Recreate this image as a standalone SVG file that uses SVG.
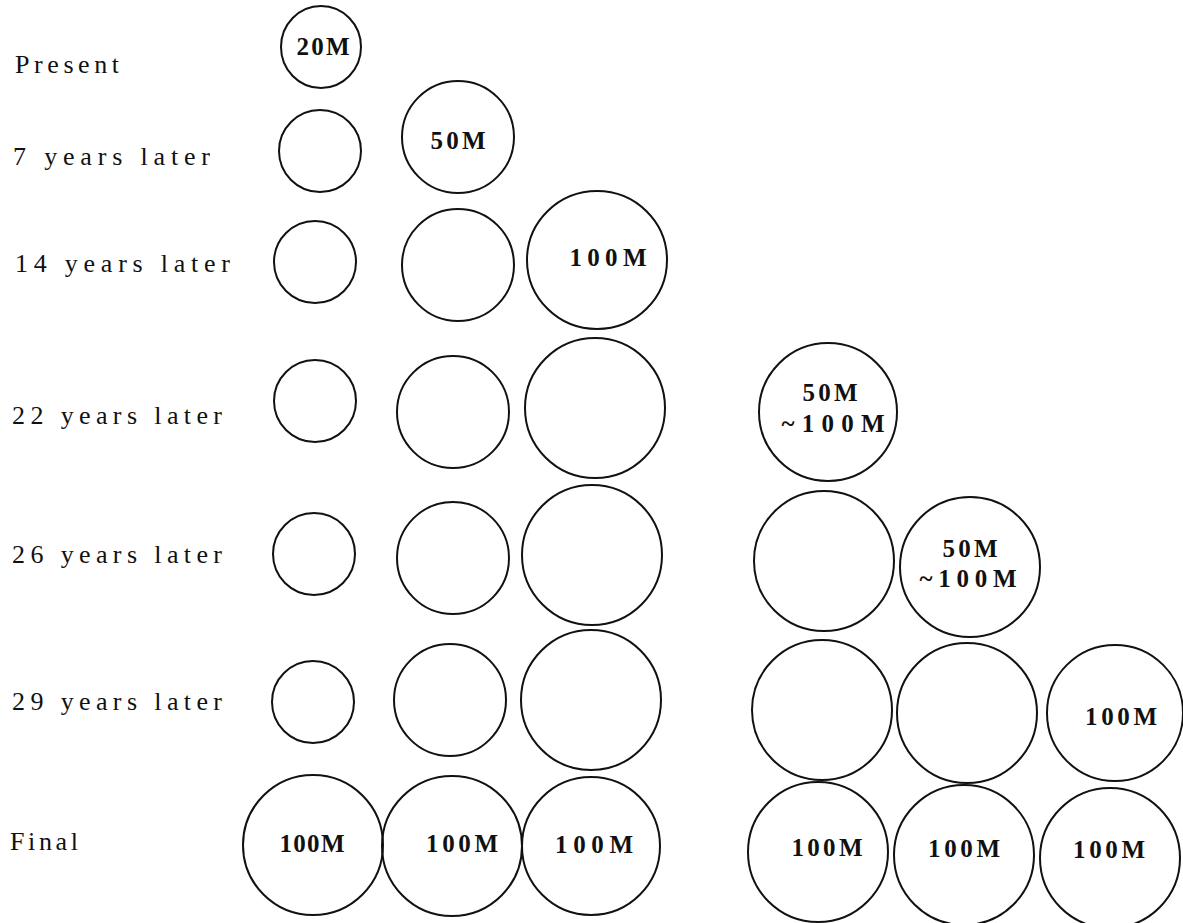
<svg xmlns="http://www.w3.org/2000/svg" width="1183" height="923" viewBox="0 0 1183 923">
<style>
.bg{fill:#ffffff}
.c{fill:none;stroke:#111;stroke-width:2}
.lbl{font-family:"Liberation Serif","DejaVu Serif",serif;font-size:26px;fill:#111}
.v{font-family:"Liberation Serif","DejaVu Serif",serif;font-size:25px;font-weight:bold;fill:#111;text-anchor:middle}
</style>
<rect class="bg" x="0" y="0" width="1183" height="923"/>
<g id="labels">
<text class="lbl" x="15" y="73" textLength="104" lengthAdjust="spacing">Present</text>
<text class="lbl" x="13" y="165" textLength="197" lengthAdjust="spacing">7 years later</text>
<text class="lbl" x="15" y="272" textLength="215" lengthAdjust="spacing">14 years later</text>
<text class="lbl" x="12" y="424" textLength="210" lengthAdjust="spacing">22 years later</text>
<text class="lbl" x="12" y="563" textLength="210" lengthAdjust="spacing">26 years later</text>
<text class="lbl" x="12" y="710" textLength="210" lengthAdjust="spacing">29 years later</text>
<text class="lbl" x="10" y="850" textLength="68" lengthAdjust="spacing">Final</text>
</g>
<g id="row-present">
<g id="p1"><ellipse class="c" cx="321" cy="47" rx="40" ry="41"/><text class="v" x="323" y="55" textLength="53" lengthAdjust="spacing">20M</text></g>
</g>
<g id="row-7">
<g id="r2a"><circle class="c" cx="320" cy="151" r="41"/></g>
<g id="r2b"><circle class="c" cx="458" cy="137" r="56"/><text class="v" x="458" y="149" textLength="55" lengthAdjust="spacing">50M</text></g>
</g>
<g id="row-14">
<g id="r3a"><circle class="c" cx="315" cy="262" r="41"/></g>
<g id="r3b"><circle class="c" cx="458" cy="265" r="56"/></g>
<g id="r3c"><ellipse class="c" cx="597" cy="260" rx="70" ry="69"/><text class="v" x="608" y="266" textLength="77" lengthAdjust="spacing">100M</text></g>
</g>
<g id="row-22">
<g id="r4a"><circle class="c" cx="315" cy="401" r="41"/></g>
<g id="r4b"><circle class="c" cx="453" cy="412" r="56"/></g>
<g id="r4c"><circle class="c" cx="595" cy="408" r="70"/></g>
<g id="r4d"><circle class="c" cx="828" cy="412" r="69"/><text class="v" x="830" y="401" textLength="55" lengthAdjust="spacing">50M</text><text class="v" x="833" y="432" textLength="103" lengthAdjust="spacing">~100M</text></g>
</g>
<g id="row-26">
<g id="r5a"><circle class="c" cx="314" cy="554" r="41"/></g>
<g id="r5b"><circle class="c" cx="453" cy="558" r="56"/></g>
<g id="r5c"><circle class="c" cx="592" cy="555" r="70"/></g>
<g id="r5d"><circle class="c" cx="824" cy="561" r="70"/></g>
<g id="r5e"><circle class="c" cx="970" cy="567" r="70"/><text class="v" x="970" y="557" textLength="55" lengthAdjust="spacing">50M</text><text class="v" x="968" y="587" textLength="97" lengthAdjust="spacing">~100M</text></g>
</g>
<g id="row-29">
<g id="r6a"><circle class="c" cx="313" cy="702" r="41"/></g>
<g id="r6b"><circle class="c" cx="450" cy="700" r="56"/></g>
<g id="r6c"><circle class="c" cx="591" cy="700" r="70"/></g>
<g id="r6d"><circle class="c" cx="822" cy="710" r="70"/></g>
<g id="r6e"><circle class="c" cx="967" cy="713" r="70"/></g>
<g id="r6f"><circle class="c" cx="1115" cy="713" r="68"/><text class="v" x="1121" y="725" textLength="72" lengthAdjust="spacing">100M</text></g>
</g>
<g id="row-final">
<g id="f1"><circle class="c" cx="313" cy="845" r="70"/><text class="v" x="312" y="852" textLength="65" lengthAdjust="spacing">100M</text></g>
<g id="f2"><circle class="c" cx="452" cy="846" r="70"/><text class="v" x="462" y="852" textLength="72" lengthAdjust="spacing">100M</text></g>
<g id="f3"><circle class="c" cx="591" cy="846" r="69"/><text class="v" x="594" y="853" textLength="78" lengthAdjust="spacing">100M</text></g>
<g id="f4"><circle class="c" cx="818" cy="852" r="70"/><text class="v" x="827" y="856" textLength="71" lengthAdjust="spacing">100M</text></g>
<g id="f5"><circle class="c" cx="964" cy="855" r="70"/><text class="v" x="964" y="857" textLength="72" lengthAdjust="spacing">100M</text></g>
<g id="f6"><circle class="c" cx="1110" cy="858" r="70"/><text class="v" x="1109" y="858" textLength="72" lengthAdjust="spacing">100M</text></g>
</g>
<g id="connectors"/>
</svg>
